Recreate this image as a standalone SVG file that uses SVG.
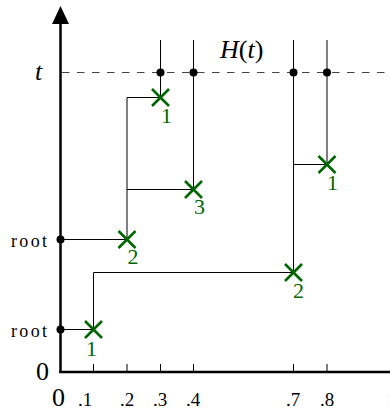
<svg xmlns="http://www.w3.org/2000/svg" width="390" height="412" viewBox="0 0 390 412">
<defs>
<style>
.ln{stroke:#000;stroke-width:1;fill:none}
.ax{stroke:#000;stroke-width:2.5;fill:none}
.tk{stroke:#000;stroke-width:1}
.dash{stroke:#444;stroke-width:1;stroke-dasharray:7.5 7.5;fill:none}
.dot{fill:#000}
.x{stroke:#006600;stroke-width:2.6;fill:none}
.gl{font-family:"Liberation Serif",serif;font-size:22px;fill:#006600;text-anchor:middle}
.big{font-family:"Liberation Serif",serif;font-size:26px;fill:#000}
.it{font-style:italic}
.tl{font-family:"Liberation Serif",serif;font-size:19px;fill:#000;text-anchor:middle}
.rt{font-family:"Liberation Serif",serif;font-size:18px;fill:#000}
</style>
<g id="cross"><path class="x" d="M-8.5,-8.5L8.5,8.5M-8.5,8.5L8.5,-8.5"/></g>
</defs>
<g id="axes">
<line class="ax" x1="60.5" y1="373" x2="60.5" y2="22"/>
<polygon points="60.5,6 52,24 69,24" fill="#000"/>
<line class="ax" x1="59.25" y1="372" x2="390" y2="372"/>
<g class="tk">
<line x1="93.5" y1="364" x2="93.5" y2="371"/>
<line x1="127" y1="364" x2="127" y2="371"/>
<line x1="160.5" y1="364" x2="160.5" y2="371"/>
<line x1="193.5" y1="364" x2="193.5" y2="371"/>
<line x1="293.5" y1="364" x2="293.5" y2="371"/>
<line x1="327" y1="364" x2="327" y2="371"/>
</g>
<text class="big" x="36" y="380">0</text>
<text class="big" x="52" y="406">0</text>
<text class="tl" x="85" y="406">.1</text>
<text class="tl" x="127" y="406">.2</text>
<text class="tl" x="160" y="406">.3</text>
<text class="tl" x="193" y="406">.4</text>
<text class="tl" x="293" y="406">.7</text>
<text class="tl" x="327" y="406">.8</text>
<text class="tl" x="393" y="406">1</text>
<text class="big it" x="35" y="80">t</text>
<text class="big" x="220" y="58"><tspan class="it">H</tspan>(<tspan class="it">t</tspan>)</text>
<text class="rt" x="11" y="247" textLength="36" lengthAdjust="spacing">root</text>
<text class="rt" x="11" y="337" textLength="36" lengthAdjust="spacing">root</text>
</g>
<g id="horizon">
<line class="dash" x1="62" y1="72.5" x2="390" y2="72.5"/>
</g>
<g id="connectors">
<path class="ln" d="M60.5,329.5H93.5V272.5H293.5V40"/>
<path class="ln" d="M293.5,164.5H327V40"/>
<path class="ln" d="M60.5,239.5H127V97.5H160.5V40"/>
<path class="ln" d="M127,189.5H193.5V40"/>
</g>
<g id="root1"><circle class="dot" cx="60.5" cy="239.5" r="4"/></g>
<g id="root2"><circle class="dot" cx="60.5" cy="329.5" r="4"/></g>
<g id="h1"><circle class="dot" cx="160.5" cy="72.5" r="4"/></g>
<g id="h2"><circle class="dot" cx="193.5" cy="72.5" r="4"/></g>
<g id="h3"><circle class="dot" cx="293.5" cy="72.5" r="4"/></g>
<g id="h4"><circle class="dot" cx="327" cy="72.5" r="4"/></g>
<g id="n1"><use href="#cross" x="93.5" y="329.5"/><text class="gl" x="91.5" y="356">1</text></g>
<g id="n2"><use href="#cross" x="127" y="239.5"/><text class="gl" x="133" y="264">2</text></g>
<g id="n3"><use href="#cross" x="160.5" y="97.5"/><text class="gl" x="166.5" y="123">1</text></g>
<g id="n4"><use href="#cross" x="193.5" y="189.5"/><text class="gl" x="199.5" y="214">3</text></g>
<g id="n5"><use href="#cross" x="293.5" y="272.5"/><text class="gl" x="298.5" y="298">2</text></g>
<g id="n6"><use href="#cross" x="327" y="164.5"/><text class="gl" x="332.5" y="190">1</text></g>
</svg>
